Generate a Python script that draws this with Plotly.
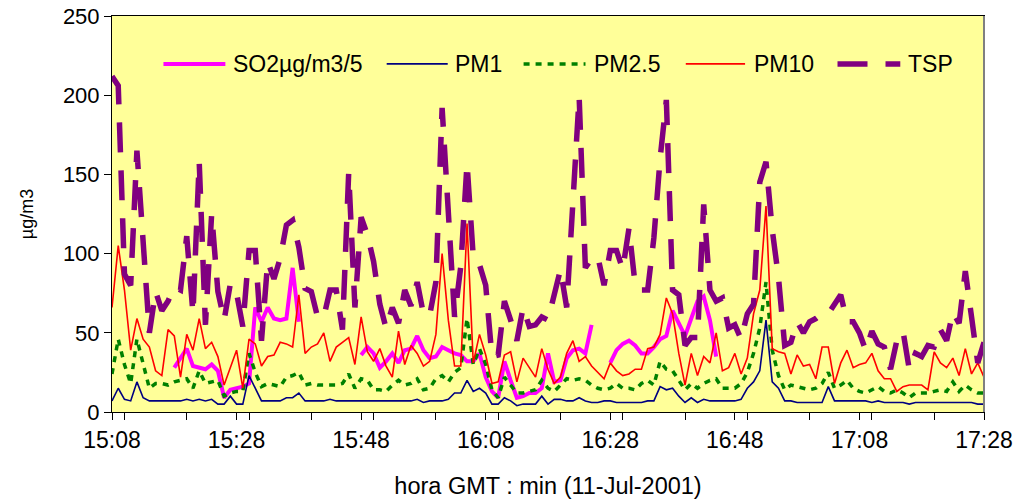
import pandas as pd
import plotly.graph_objects as go

# ---- data (1-minute readings, 15:08 .. 17:28, 11-Jul-2001) ----
start_time = "2001-07-11 15:08"
n_points = 141

so2 = ([None] * 10 +
       [28, 34, 40, 29, 28, 27, 30, 26, 9, 14, 15, 16, 18, 66, 57, 66, 59, 58, 59, 91, 57] +
       [None] * 9 +
       [36, 41, 37, 28, 32, 37, 31, 39, 40, 48, 39, 34, 35, 41, 39, 37, 36, 32, 32, 37, 22] +
       [13, 9, 32, 20, 9, 10, 12, 12, 15, 37, 19, 20, 34, 39, 40, 37, 55] +
       [None] * 2 +
       [31, 39, 43, 45, 42, 37, 37, 41, 46, 48, 64, 56, 48, 59, 70, 73, 58, 35] +
       [None] * 43)

pm1 = [7, 15, 8, 7, 19, 9, 7, 7, 7, 7, 7, 7, 8, 7, 8, 7, 8, 5, 5, 10, 5,
       5, 23, 15, 7, 7, 7, 7, 9, 9, 12, 7, 7, 7, 7, 8, 7, 7, 7, 7, 7,
       7, 7, 7, 7, 7, 7, 7, 7, 8, 6, 7, 7, 7, 8, 12, 12, 20, 13, 15, 12,
       5, 5, 9, 7, 4, 5, 5, 5, 10, 5, 8, 8, 7, 7, 9, 7, 6, 6, 7, 7,
       6, 6, 6, 6, 6, 7, 7, 16, 14, 15, 10, 6, 9, 6, 8, 7, 7, 7, 7, 7,
       8, 15, 19, 26, 58, 19, 15, 7, 7, 6, 6, 6, 6, 6, 16, 7, 7, 7, 7, 7,
       7, 6, 7, 6, 6, 6, 6, 5, 6, 6, 6, 6, 6, 6, 6, 6, 6, 6, 5, 5]

pm25 = [24, 46, 30, 18, 46, 30, 15, 18, 18, 17, 19, 20, 21, 15, 26, 18, 19, 20, 10, 12, 13,
        13, 37, 25, 16, 18, 17, 16, 22, 23, 25, 17, 18, 17, 17, 17, 17, 18, 24, 15, 21,
        20, 14, 14, 13, 17, 20, 17, 18, 21, 14, 15, 21, 23, 19, 25, 28, 59, 30, 40, 30,
        14, 9, 22, 17, 12, 12, 13, 14, 20, 15, 13, 17, 21, 20, 21, 20, 17, 15, 14, 15,
        18, 15, 15, 14, 18, 20, 17, 32, 27, 26, 20, 14, 18, 15, 18, 20, 21, 15, 15, 15,
        18, 25, 37, 53, 82, 39, 23, 14, 17, 16, 15, 14, 15, 18, 25, 15, 17, 20, 15, 13,
        12, 14, 16, 13, 12, 14, 12, 9, 12, 12, 12, 13, 14, 13, 19, 13, 17, 14, 12, 12]

pm10 = [66, 105, 77, 39, 59, 46, 41, 26, 23, 52, 48, 22, 49, 39, 59, 40, 44, 35, 17, 28, 39,
        15, 46, 43, 29, 35, 36, 44, 43, 41, 74, 37, 41, 43, 50, 32, 41, 44, 47, 30, 60,
        38, 32, 40, 29, 22, 51, 30, 42, 37, 29, 32, 49, 100, 58, 29, 29, 119, 31, 49, 36,
        18, 19, 36, 38, 19, 34, 28, 22, 40, 27, 18, 22, 37, 45, 32, 35, 29, 25, 21, 31,
        26, 23, 24, 27, 27, 40, 41, 49, 72, 62, 37, 17, 37, 23, 35, 31, 50, 26, 28, 37,
        24, 34, 62, 77, 130, 40, 38, 37, 24, 36, 29, 30, 21, 41, 41, 18, 31, 39, 28, 30,
        31, 37, 26, 21, 21, 13, 16, 17, 17, 17, 14, 38, 31, 28, 34, 23, 40, 24, 31, 22]

tsp = [212, 206, 87, 80, 165, 105, 50, 76, 64, 70,
       79, 77, 111, 62, 158, 55, 125, 76, 58, 81,
       75, 54, 102, 102, 45, 95, 84, 97, 118, 121,
       104, 78, 76, 60, 60, 77, 77, 52, 151, 66,
       123, 112, 95, 68, 53, 66, 56, 77, 67, 82,
       62, 61, 82, 192, 125, 60, 92, 157, 98, 93,
       80, 35, 36, 70, 58, 45, 66, 54, 55, 60,
       58, 74, 90, 66, 135, 199, 91, 97, 98, 80,
       102, 102, 90, 116, 80, 77, 77, 110, 160, 197,
       77, 74, 42, 47, 47, 131, 77, 70, 72, 53,
       55, 46, 62, 68, 145, 158, 115, 85, 42, 44,
       57, 50, 57, 59, 62, 62, 68, 74, 57, 57,
       50, 39, 51, 43, 41, 27, 45, 51, 27, 37,
       35, 42, 41, 52, 45, 63, 56, 89, 60, 31,
       44]

series_names = ["SO2µg/m3/5", "PM1", "PM2.5", "PM10", "TSP"]
x_title = "hora GMT : min (11-Jul-2001)"
y_title = "µg/m3"

times = pd.date_range(start_time, periods=n_points, freq="min")

styles = {
    "SO2µg/m3/5": dict(color="#FF00FF", width=4, dash="solid"),
    "PM1": dict(color="#000080", width=1.6, dash="solid"),
    "PM2.5": dict(color="#008000", width=3.5, dash="6px,6px"),
    "PM10": dict(color="#FF0000", width=1.6, dash="solid"),
    "TSP": dict(color="#800080", width=5.5, dash="30px,18px"),
}
values = {"SO2µg/m3/5": so2, "PM1": pm1, "PM2.5": pm25, "PM10": pm10, "TSP": tsp}

FONT = "Liberation Sans, Arial, sans-serif"

fig = go.Figure()
for name in series_names:
    fig.add_trace(go.Scatter(x=times, y=values[name], mode="lines", name=name,
                             line=styles[name], connectgaps=False, showlegend=False))

# ---- legend drawn inside plot (horizontal, as in the original) ----
leg_y = 0.879
leg_items = [  # (x0, x1, text x) in paper coords
    (0.059, 0.130, 0.136),
    (0.315, 0.385, 0.391),
    (0.472, 0.543, 0.550),
    (0.658, 0.726, 0.734),
    (0.832, 0.904, 0.910),
]
for name, (lx0, lx1, tx) in zip(series_names, leg_items):
    st = styles[name]
    fig.add_shape(type="line", xref="paper", yref="paper", x0=lx0, x1=lx1, y0=leg_y, y1=leg_y,
                  line=dict(color=st["color"], width=st["width"], dash=st["dash"]))
    fig.add_annotation(xref="paper", yref="paper", x=tx, y=leg_y, text=name, showarrow=False,
                       xanchor="left", yanchor="middle", font=dict(size=23, color="black", family=FONT))

t0 = times[0]
t1 = times[-1]
fig.update_layout(
    width=1027, height=501,
    margin=dict(l=112, r=43, t=16, b=89),
    paper_bgcolor="white",
    plot_bgcolor="#FFFF99",
    font=dict(family=FONT, size=22, color="black"),
    showlegend=False,
    xaxis=dict(
        type="date", range=[t0, t1], tick0=t0, dtick=20 * 60 * 1000, tickformat="%H:%M",
        ticks="outside", ticklen=7, tickcolor="black", showgrid=False, automargin=False,
        ticklabeloverflow="allow",
        showline=True, linecolor="black", linewidth=1, mirror=True,
        minor=dict(dtick=10 * 60 * 1000, ticks="outside", ticklen=7, tickcolor="black", showgrid=False),
        title=dict(text=x_title, font=dict(size=23.5), standoff=25),
        tickfont=dict(size=23),
    ),
    yaxis=dict(
        range=[0, 250], dtick=50, ticks="outside", ticklen=7, tickcolor="black", automargin=False,
        ticklabeloverflow="allow",
        showgrid=False, zeroline=False, showline=True, linecolor="black", linewidth=1, mirror=True,
        title=dict(text=y_title, font=dict(size=18), standoff=24),
        tickfont=dict(size=22),
    ),
)
fig.add_shape(type="line", xref="paper", yref="paper", x0=1, x1=1, y0=0, y1=1,
              line=dict(color="#808080", width=2))

fig.write_html("out.html", config={"displayModeBar": False},
               post_script="document.body.style.margin='0px';")
